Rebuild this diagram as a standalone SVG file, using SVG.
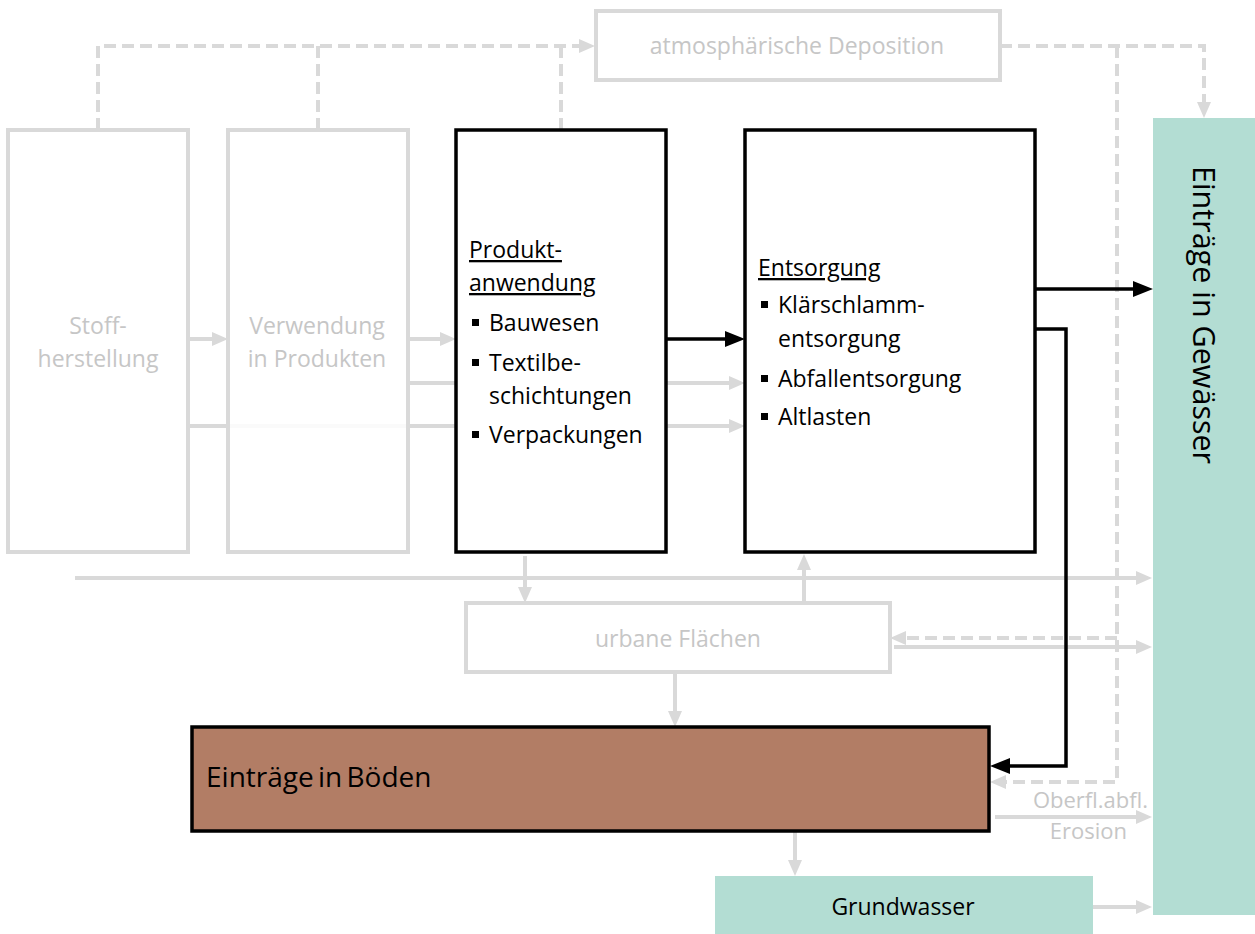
<svg xmlns="http://www.w3.org/2000/svg" width="1255" height="934" viewBox="0 0 1255 934">
<style>
.gb{fill:#fff;stroke:#d9d9d9;stroke-width:4}
.bb{fill:#fff;stroke:#000;stroke-width:3.5}
.gl{fill:none;stroke:#d9d9d9;stroke-width:4}
.gd{fill:none;stroke:#d9d9d9;stroke-width:4;stroke-dasharray:12 6}
.bl{fill:none;stroke:#000;stroke-width:3.5}
.t{font-family:'Open Sans','Noto Sans',sans-serif;font-size:23px}
.tg{fill:#c6c6c6}
.u{text-decoration:underline}
</style>
<defs>
<marker id="ag" markerUnits="userSpaceOnUse" markerWidth="16" markerHeight="14" refX="8" refY="7" orient="auto"><path d="M0,0 L16,7 L0,14 z" fill="#d9d9d9"/></marker>
<marker id="ab" markerUnits="userSpaceOnUse" markerWidth="20" markerHeight="16" refX="10" refY="8" orient="auto"><path d="M0,0 L20,8 L0,16 z" fill="#000"/></marker>
</defs>
<rect width="1255" height="934" fill="#fff"/>
<g id="connectors">
<path class="gd" d="M98,130 V46 H587" marker-end="url(#ag)"/>
<path class="gd" d="M318,130 V46"/>
<path class="gd" d="M561,130 V46"/>
<path class="gd" d="M1000,46 H1204 V110" marker-end="url(#ag)"/>
<path class="gd" d="M1117,46 V782 H998" marker-end="url(#ag)"/>
<path class="gd" d="M1117,638 H898" marker-end="url(#ag)"/>
<path class="gl" d="M188,339 H220" marker-end="url(#ag)"/>
<path class="gl" d="M408,339 H448" marker-end="url(#ag)"/>
<path class="gl" d="M408,383 H737" marker-end="url(#ag)"/>
<path class="gl" d="M188,426 H737" marker-end="url(#ag)"/>
<path class="gl" d="M75,578 H1144" marker-end="url(#ag)"/>
<path class="gl" d="M525,556 V595" marker-end="url(#ag)"/>
<path class="gl" d="M804,603 V562" marker-end="url(#ag)"/>
<path class="gl" d="M894,647 H1144" marker-end="url(#ag)"/>
<path class="gl" d="M675,673 V719" marker-end="url(#ag)"/>
<path class="gl" d="M795,832 V868" marker-end="url(#ag)"/>
<path class="gl" d="M995,817 H1144" marker-end="url(#ag)"/>
<path class="gl" d="M1083,907 H1144" marker-end="url(#ag)"/>
<path class="bl" d="M666,339 H735" marker-end="url(#ab)"/>
<path class="bl" d="M1035,289 H1143" marker-end="url(#ab)"/>
<path class="bl" d="M1035,329 H1066 V766 H1000" marker-end="url(#ab)"/>
</g>
<g id="stoffherstellung">
<rect class="gb" x="8" y="130" width="180" height="422"/>
<text class="t tg" text-anchor="middle" x="98" y="334">Stoff-</text>
<text class="t tg" text-anchor="middle" x="98" y="367">herstellung</text>
</g>
<g id="verwendung">
<rect class="gb" x="228" y="130" width="180" height="422" fill-opacity="0.85"/>
<text class="t tg" text-anchor="middle" x="317" y="334">Verwendung</text>
<text class="t tg" text-anchor="middle" x="317" y="367">in Produkten</text>
</g>
<g id="produktanwendung">
<rect class="bb" x="456" y="130" width="210" height="422"/>
<text class="t u" x="469" y="258">Produkt-</text>
<text class="t u" x="469" y="291">anwendung</text>
<rect x="472" y="319" width="7" height="7"/>
<text class="t" x="489" y="331">Bauwesen</text>
<rect x="472" y="359" width="7" height="7"/>
<text class="t" x="489" y="371">Textilbe-</text>
<text class="t" x="489" y="404">schichtungen</text>
<rect x="472" y="431" width="7" height="7"/>
<text class="t" x="489" y="443">Verpackungen</text>
</g>
<g id="entsorgung">
<rect class="bb" x="745" y="130" width="290" height="422"/>
<text class="t u" x="758" y="276">Entsorgung</text>
<rect x="761" y="301" width="7" height="7"/>
<text class="t" x="778" y="313">Klärschlamm-</text>
<text class="t" x="778" y="347">entsorgung</text>
<rect x="761" y="375" width="7" height="7"/>
<text class="t" x="778" y="387">Abfallentsorgung</text>
<rect x="761" y="413" width="7" height="7"/>
<text class="t" x="778" y="425">Altlasten</text>
</g>
<g id="atmosphaerische-deposition">
<rect class="gb" x="596" y="11" width="404" height="69"/>
<text class="t tg" text-anchor="middle" x="797" y="54">atmosphärische Deposition</text>
</g>
<g id="urbane-flaechen">
<rect class="gb" x="466" y="603" width="424" height="69"/>
<text class="t tg" text-anchor="middle" x="678" y="647">urbane Flächen</text>
</g>
<g id="eintraege-boeden">
<rect x="192" y="727" width="797" height="104" fill="#b27d65" stroke="#000" stroke-width="3.5"/>
<text class="t" x="206" y="787" style="font-size:28px;word-spacing:-3px">Einträge in Böden</text>
</g>
<g id="grundwasser">
<rect x="715" y="876" width="378" height="58" fill="#b3ddd3"/>
<text class="t" text-anchor="middle" x="903" y="915" style="font-size:23px">Grundwasser</text>
</g>
<g id="eintraege-gewaesser">
<rect x="1153" y="118" width="102" height="797" fill="#b3ddd3"/>
<text class="t" text-anchor="middle" transform="translate(1193,315) rotate(90)" style="font-size:30.5px">Einträge in Gewässer</text>
</g>
<g id="labels">
<text class="t tg" text-anchor="end" x="1148" y="808" style="font-size:22px">Oberfl.abfl.</text>
<text class="t tg" text-anchor="end" x="1127" y="839" style="font-size:22px">Erosion</text>
</g>
</svg>
